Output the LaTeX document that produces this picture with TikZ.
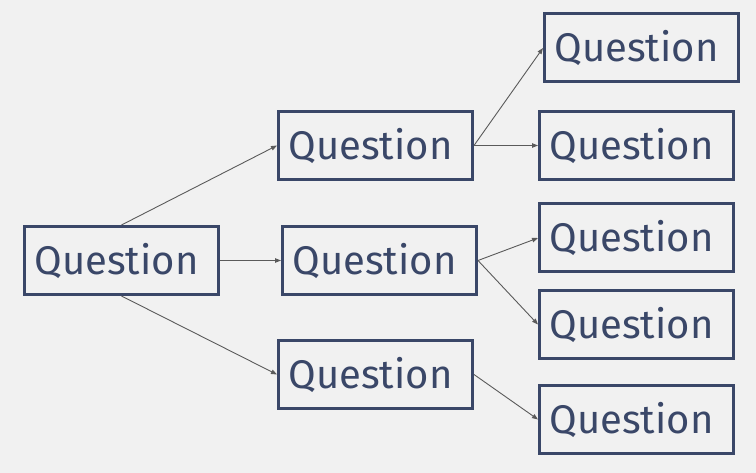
\documentclass[tikz,border=0pt]{standalone}
\usepackage{fontspec}
\setmainfont{Fira Sans}
\usetikzlibrary{arrows.meta}
\definecolor{bg}{HTML}{F1F1F1}
\definecolor{navy}{HTML}{3A4768}
\definecolor{conn}{HTML}{5A5A5A}
\newcommand{\qtext}{\hspace*{-10pt}Question}
\begin{document}
\begin{tikzpicture}[x=1pt,y=-1pt,
  qbox/.style={draw=navy,line width=3pt,minimum width=194pt,minimum height=68pt,inner sep=0pt,
    text=navy,font=\fontsize{40}{40}\selectfont},
  conn/.style={draw=conn,line width=0.9pt,-{Triangle[length=6pt,width=4.5pt]}}]
\fill[bg] (0,0) rectangle (756,473);
\useasboundingbox (0,0) rectangle (756,473);
\node[qbox] (a) at (121.5,260.5) {\qtext};
\node[qbox] (b1) at (375.5,145.5) {\qtext};
\node[qbox] (b2) at (379.5,260.5) {\qtext};
\node[qbox] (b3) at (375.5,374.5) {\qtext};
\node[qbox] (c1) at (641.5,48) {\qtext};
\node[qbox] (c2) at (636.5,145.5) {\qtext};
\node[qbox] (c3) at (636.5,238) {\qtext};
\node[qbox] (c4) at (636.5,324.5) {\qtext};
\node[qbox] (c5) at (636.5,419.5) {\qtext};
\draw[conn] (a.north) -- (b1.west);
\draw[conn] (a.east) -- (b2.west);
\draw[conn] (a.south) -- (b3.west);
\draw[conn] (b1.east) -- (c1.west);
\draw[conn] (b1.east) -- (c2.west);
\draw[conn] (b2.east) -- (c3.west);
\draw[conn] (b2.east) -- (c4.west);
\draw[conn] (b3.east) -- (c5.west);
\end{tikzpicture}
\end{document}
